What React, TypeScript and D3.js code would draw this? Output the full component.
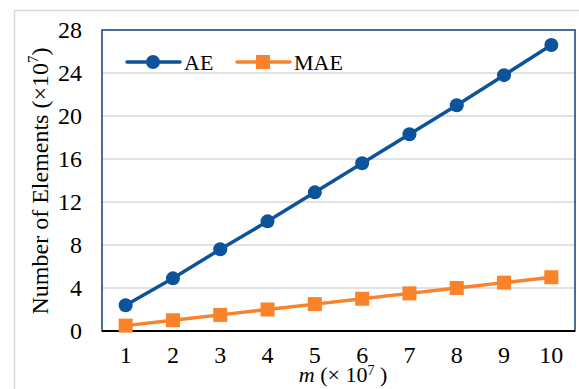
import React from 'react';
import * as d3 from 'd3';

const mValues = [1, 2, 3, 4, 5, 6, 7, 8, 9, 10];
const aeValues = [2.4, 4.9, 7.6, 10.2, 12.9, 15.6, 18.3, 21.0, 23.8, 26.6];
const maeValues = [0.5, 1.0, 1.5, 2.0, 2.5, 3.0, 3.5, 4.0, 4.5, 5.0];
const yTicks = [0, 4, 8, 12, 16, 20, 24, 28];

const W = 579;
const H = 389;
const margin = { top: 30, right: 4, bottom: 58, left: 102 };
const blue = '#0c539c';
const orange = '#fa8228';
const font = '"Liberation Serif", "Times New Roman", serif';

const App = () => {
  const x = d3
    .scalePoint<number>()
    .domain(mValues)
    .range([margin.left, W - margin.right])
    .padding(0.5);
  const y = d3.scaleLinear().domain([0, 28]).range([H - margin.bottom, margin.top]);

  const line = d3
    .line<number>()
    .x((_, i) => x(mValues[i]) as number)
    .y((d) => y(d));

  const plotW = W - margin.right - margin.left;
  const plotH = H - margin.bottom - margin.top;

  return (
    <svg
      width={W}
      height={H}
      style={{ position: 'absolute', left: 0, top: 0, background: '#fff' }}
      fontFamily={font}
    >
      {/* outer frame */}
      <line x1={14} x2={W} y1={10.5} y2={10.5} stroke="#d9d9d9" strokeWidth={1.5} />
      <line x1={14.5} x2={14.5} y1={10} y2={H} stroke="#d9d9d9" strokeWidth={1.5} />

      {/* grid */}
      {yTicks.slice(1, -1).map((t) => (
        <line
          key={t}
          x1={margin.left}
          x2={W - margin.right}
          y1={y(t)}
          y2={y(t)}
          stroke="#d9d9d9"
          strokeWidth={1.5}
        />
      ))}

      {/* plot border */}
      <rect
        x={margin.left}
        y={margin.top}
        width={plotW}
        height={plotH}
        fill="none"
        stroke="#0b3f7a"
        strokeWidth={1.5}
      />
      <line
        x1={margin.left}
        x2={W - margin.right}
        y1={y(0)}
        y2={y(0)}
        stroke="#000"
        strokeWidth={2}
      />

      {/* y tick labels */}
      {yTicks.map((t) => (
        <text key={t} x={margin.left - 20} y={y(t)} dy="0.34em" textAnchor="end" fontSize={24}>
          {t}
        </text>
      ))}

      {/* x tick labels */}
      {mValues.map((m) => (
        <text key={m} x={x(m)} y={363} textAnchor="middle" fontSize={24}>
          {m}
        </text>
      ))}

      {/* axis titles */}
      <text x={343} y={382} textAnchor="middle" fontSize={22}>
        <tspan fontStyle="italic">m</tspan>
        <tspan> (× 10</tspan>
        <tspan fontSize={14} dy={-7}>7</tspan>
        <tspan dy={7}> )</tspan>
      </text>
      <text
        transform={`translate(48,181) rotate(-90)`}
        textAnchor="middle"
        fontSize={24}
      >
        <tspan>Number of Elements (×10</tspan>
        <tspan fontSize={15} dy={-10}>7</tspan>
        <tspan dy={10}>)</tspan>
      </text>

      {/* series */}
      <path d={line(aeValues) ?? ''} fill="none" stroke={blue} strokeWidth={3.5} strokeLinejoin="round" />
      {aeValues.map((v, i) => (
        <circle key={i} cx={x(mValues[i])} cy={y(v)} r={7} fill={blue} />
      ))}
      <path d={line(maeValues) ?? ''} fill="none" stroke={orange} strokeWidth={3.5} strokeLinejoin="round" />
      {maeValues.map((v, i) => (
        <rect key={i} x={(x(mValues[i]) as number) - 7} y={y(v) - 7} width={14} height={14} fill={orange} />
      ))}

      {/* legend */}
      <g>
        <line x1={127} x2={180} y1={62} y2={62} stroke={blue} strokeWidth={3.5} strokeLinecap="round" />
        <circle cx={153} cy={62} r={7} fill={blue} />
        <text x={184} y={62} dy="0.35em" fontSize={22}>AE</text>
        <line x1={237} x2={290} y1={62} y2={62} stroke={orange} strokeWidth={3.5} strokeLinecap="round" />
        <rect x={256} y={55} width={14} height={14} fill={orange} />
        <text x={294} y={62} dy="0.35em" fontSize={22}>MAE</text>
      </g>
    </svg>
  );
};

export default App;
